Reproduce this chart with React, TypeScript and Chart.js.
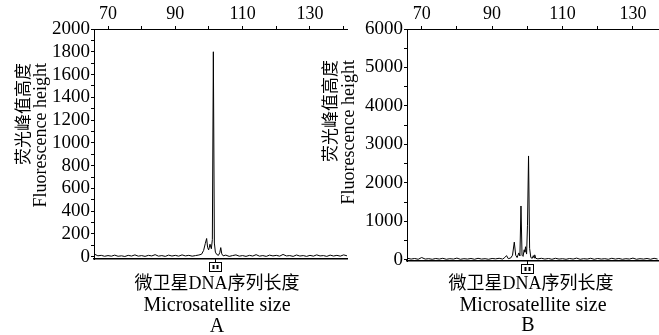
import React, { useEffect, useRef } from "react";
import { Chart, registerables } from "chart.js";

Chart.register(...registerables);

// ---- Panel A data (fragment size vs fluorescence height) ----
const sizeA = [
  66, 67, 68, 69, 70, 71, 72, 73, 74, 75, 76, 77, 78, 79, 80, 81, 82, 83, 84, 85,
  86, 87, 88, 89, 90, 91, 92, 93, 94, 95, 96, 97, 97.8, 98.4, 98.9, 99.3, 99.6, 99.9,
  100.3, 100.7, 101.0, 101.3, 101.6, 101.9, 102.3, 102.8, 103.2, 103.5, 103.8, 104.2,
  105, 106, 107, 108, 109, 110, 111, 112, 113, 114, 115, 116, 117, 118, 119, 120, 121,
  122, 123, 124, 125, 126, 127, 128, 129, 130, 131, 132, 133, 134, 135, 136, 137, 138,
  139, 140, 141,
];
const heightA = [
  22, 8, 12, 4, 10, 5, 14, 4, 8, 2, 12, 6, 16, 5, 10, 3, 12, 7, 18, 5,
  10, 3, 14, 6, 12, 5, 16, 7, 12, 5, 10, 15, 22, 55, 115, 160, 80, 60,
  110, 70, 150, 1800, 120, 40, 20, 12, 35, 80, 25, 8,
  14, 3, 10, 16, 5, 10, 3, 12, 6, 18, 5, 10, 3, 14, 7, 12, 5,
  20, 7, 10, 3, 15, 6, 10, 3, 12, 5, 16, 7, 10, 3, 14, 6, 12,
  5, 16, 8,
];

// ---- Panel B data ----
const sizeB = [
  66, 67, 68, 69, 70, 71, 72, 73, 74, 75, 76, 77, 78, 79, 80, 81, 82, 83, 84, 85,
  86, 87, 88, 89, 90, 91, 92, 93, 93.6, 94.1, 94.6, 95.3, 95.8, 96.3, 96.7, 97.1,
  97.6, 97.9, 98.2, 98.5, 98.8, 99.1, 99.3, 99.5, 99.8, 100.05, 100.35, 100.65,
  101.0, 101.4, 101.7, 101.9, 102.1, 102.4, 103, 104, 105, 106, 107, 108, 109, 110,
  111, 112, 113, 114, 115, 116, 117, 118, 119, 120, 121, 122, 123, 124, 125, 126,
  127, 128, 129, 130, 131, 132, 133, 134, 135, 136, 137,
];
const heightB = [
  40, 20, 35, 15, 60, 20, 30, 15, 35, 20, 40, 15, 30, 20, 45, 15, 30, 20, 35, 15,
  40, 20, 30, 15, 35, 25, 40, 20, 60, 110, 30, 50, 120, 460, 120, 60,
  180, 100, 1400, 120, 90, 260, 200, 340, 150, 900, 2700, 300,
  60, 40, 110, 50, 130, 40, 25, 40, 20, 35, 15, 40, 20, 30,
  15, 35, 20, 45, 15, 30, 20, 40, 15, 35, 20, 30, 15, 40, 20, 35,
  15, 30, 20, 45, 15, 30, 20, 35, 15, 40, 20,
];

// ---- axis ticks ----
const topTickValuesA = [70, 80, 90, 100, 110, 120, 130, 140];
const topTickValuesB = [70, 80, 90, 100, 110, 120, 130];
const topTickLabels = [70, 90, 110, 130];
const yTickValuesA = [0, 100, 200, 300, 400, 500, 600, 700, 800, 900, 1000, 1100, 1200, 1300, 1400, 1500, 1600, 1700, 1800, 1900, 2000];
const yTickLabelsA = [0, 200, 400, 600, 800, 1000, 1200, 1400, 1600, 1800, 2000];
const yTickValuesB = [0, 500, 1000, 1500, 2000, 2500, 3000, 3500, 4000, 4500, 5000, 5500, 6000];
const yTickLabelsB = [0, 1000, 2000, 3000, 4000, 5000, 6000];

// ---- text ----
const yTitleCN = "荧光峰值高度";
const yTitleEN = "Fluorescence height";
const xTitleCN = "微卫星DNA序列长度";
const xTitleEN = "Microsatellite size";
const panelNames = ["A", "B"];
const markerA = 101.8;
const markerB = 100.0;

const SERIF = '"Liberation Serif", "Times New Roman", serif';
const CJK = '"Liberation Serif", "Noto Sans CJK SC", serif';

const textPlugin = {
  id: "panelText",
  afterDraw(chart: any, _args: any, opts: any) {
    const ctx = chart.ctx;
    ctx.save();
    ctx.fillStyle = "#000";
    for (const t of opts.yTitles) {
      ctx.save();
      ctx.translate(t.x, t.end);
      ctx.rotate(-Math.PI / 2);
      ctx.font = t.font;
      ctx.textAlign = "right";
      ctx.textBaseline = "middle";
      ctx.fillText(t.text, 0, 0);
      ctx.restore();
    }
    for (const t of opts.xTitles) {
      ctx.font = t.font;
      ctx.textAlign = "center";
      ctx.textBaseline = "middle";
      ctx.fillText(t.text, t.x, t.y);
    }
    const xs = chart.scales.x;
    const px = Math.round(xs.getPixelForValue(opts.marker)) + 0.5;
    const b = Math.round(chart.chartArea.bottom);
    ctx.strokeStyle = "#000";
    ctx.lineWidth = 1;
    ctx.beginPath();
    ctx.moveTo(px, b);
    ctx.lineTo(px, b + 3);
    ctx.stroke();
    ctx.strokeRect(px - 6, b + 3.5, 12, 9);
    ctx.fillRect(px - 3, b + 6, 2, 4);
    ctx.fillRect(px + 1, b + 6, 2, 4);
    ctx.restore();
  },
};

function makeConfig(p: any) {
  return {
    type: "line",
    data: {
      datasets: [
        {
          data: p.sizes.map((x: number, i: number) => ({ x, y: p.heights[i] })),
          borderColor: "#000",
          borderWidth: 1,
          pointRadius: 0,
          tension: 0,
          fill: false,
          xAxisID: "x",
          yAxisID: "y",
        },
      ],
    },
    plugins: [textPlugin],
    options: {
      animation: false,
      responsive: false,
      maintainAspectRatio: false,
      layout: { padding: 0 },
      events: [],
      plugins: {
        legend: { display: false },
        tooltip: { enabled: false },
        panelText: {
          yTitles: p.yTitles,
          xTitles: p.xTitles,
          marker: p.marker,
        },
      },
      scales: {
        x: {
          type: "linear",
          position: "top",
          min: p.xMin,
          max: p.xMax,
          afterBuildTicks: (s: any) => {
            s.ticks = p.xTicks.map((v: number) => ({ value: v }));
          },
          ticks: {
            autoSkip: false,
            maxRotation: 0,
            padding: 1,
            color: "#000",
            font: { family: SERIF, size: 18 },
            callback: (v: number) => (topTickLabels.includes(v) ? String(v) : ""),
          },
          grid: { drawOnChartArea: false, drawTicks: true, tickLength: 3, color: "#000" },
          border: { color: "#000", width: 1 },
          afterFit: (s: any) => {
            s.height = p.topH;
            s.paddingLeft = 0;
            s.paddingRight = 0;
          },
        },
        xb: {
          type: "linear",
          position: "bottom",
          min: p.xMin,
          max: p.xMax,
          ticks: { display: false },
          grid: { display: false },
          border: { color: "#000", width: 1.5 },
          afterFit: (s: any) => {
            s.height = p.bottomH;
            s.paddingLeft = 0;
            s.paddingRight = 0;
          },
        },
        y: {
          type: "linear",
          position: "left",
          min: p.yMin,
          max: p.yMax,
          afterBuildTicks: (s: any) => {
            s.ticks = p.yTicks.map((v: number) => ({ value: v }));
          },
          ticks: {
            autoSkip: false,
            padding: 1,
            color: "#000",
            font: { family: SERIF, size: 19 },
            callback: (v: number) => (p.yLabels.includes(v) ? String(v) : ""),
          },
          grid: { drawOnChartArea: false, drawTicks: true, tickLength: 3, color: "#000" },
          border: { color: "#000", width: 1 },
          afterFit: (s: any) => {
            s.width = p.leftW;
            s.paddingTop = 0;
            s.paddingBottom = 0;
          },
        },
      },
    },
  };
}

function Panel(props: { cfg: any; left: number; width: number }) {
  const ref = useRef<HTMLCanvasElement | null>(null);
  useEffect(() => {
    const chart = new Chart(ref.current as HTMLCanvasElement, props.cfg);
    return () => chart.destroy();
  }, []);
  return (
    <canvas
      ref={ref}
      width={props.width}
      height={335}
      style={{ position: "absolute", left: props.left, top: 0, width: props.width, height: 335 }}
    />
  );
}

const cfgA = makeConfig({
  sizes: sizeA,
  heights: heightA,
  xMin: 65.84,
  xMax: 141.3,
  yMin: -20,
  yMax: 2000,
  xTicks: topTickValuesA,
  yTicks: yTickValuesA,
  yLabels: yTickLabelsA,
  leftW: 94,
  topH: 29,
  bottomH: 76,
  marker: markerA,
  yTitles: [
    { text: yTitleCN, x: 23, end: 63, font: `17px "Noto Sans CJK SC", sans-serif` },
    { text: yTitleEN, x: 41, end: 63, font: `18px ${SERIF}` },
  ],
  xTitles: [
    { text: xTitleCN, x: 217, y: 284, font: `18px ${CJK}` },
    { text: xTitleEN, x: 217, y: 306, font: `20px ${SERIF}` },
    { text: panelNames[0], x: 217, y: 327, font: `20px ${SERIF}` },
  ],
});

const cfgB = makeConfig({
  sizes: sizeB,
  heights: heightB,
  xMin: 65.83,
  xMax: 137.4,
  yMin: -30,
  yMax: 6000,
  xTicks: topTickValuesB,
  yTicks: yTickValuesB,
  yLabels: yTickLabelsB,
  leftW: 92,
  topH: 29,
  bottomH: 74,
  marker: markerB,
  yTitles: [
    { text: yTitleCN, x: 15, end: 60, font: `17px "Noto Sans CJK SC", sans-serif` },
    { text: yTitleEN, x: 34, end: 60, font: `18px ${SERIF}` },
  ],
  xTitles: [
    { text: xTitleCN, x: 216, y: 284, font: `18px ${CJK}` },
    { text: xTitleEN, x: 218, y: 306, font: `20px ${SERIF}` },
    { text: panelNames[1], x: 213, y: 326, font: `20px ${SERIF}` },
  ],
});

export default function App() {
  return (
    <div
      style={{
        position: "absolute",
        left: 0,
        top: 0,
        width: 659,
        height: 335,
        background: "#fff",
        overflow: "hidden",
      }}
    >
      <Panel cfg={cfgA} left={0} width={348} />
      <Panel cfg={cfgB} left={315} width={344} />
    </div>
  );
}
